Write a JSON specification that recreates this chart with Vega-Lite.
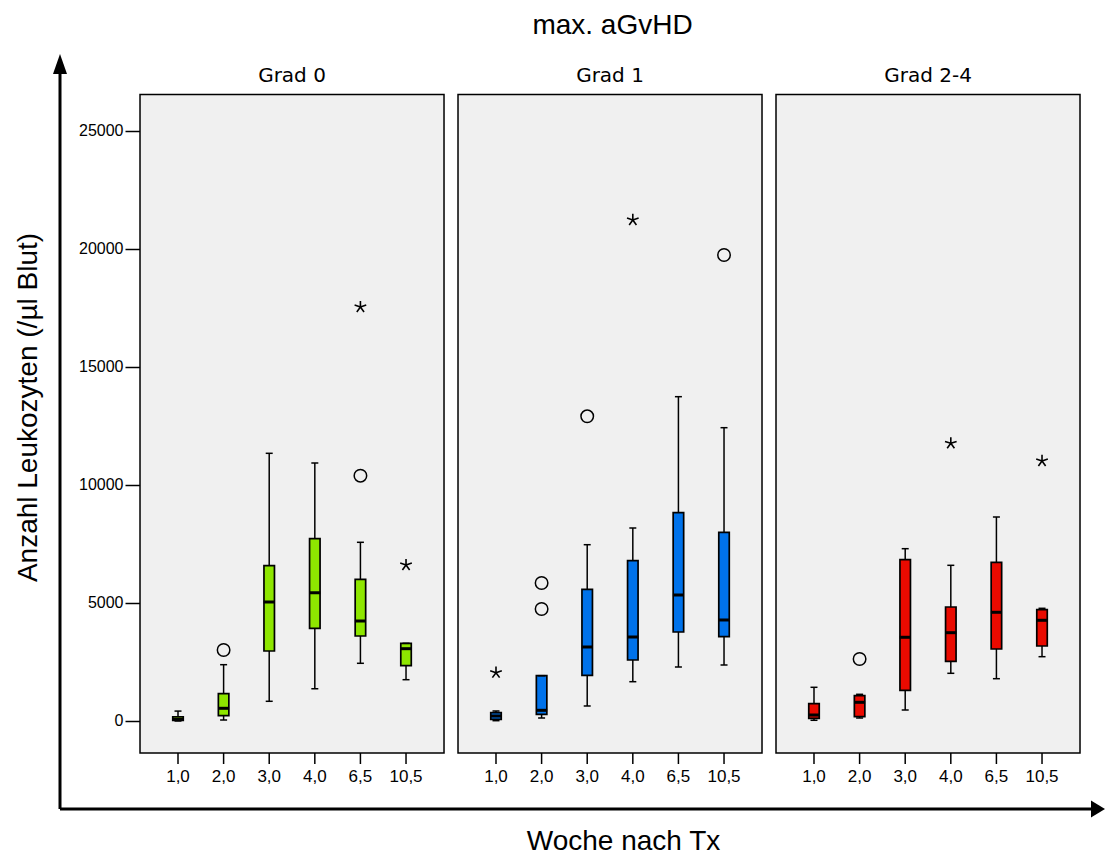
{
  "$schema": "https://vega.github.io/schema/vega-lite/v6.json",
  "autosize": "none",
  "width": 1045,
  "height": 756,
  "padding": {"left": 60, "top": 53, "right": 0, "bottom": 48},
  "background": "white",
  "config": {"view": {"stroke": null}, "font": "Liberation Sans"},
  "title": {
    "text": "max. aGvHD",
    "font": "Liberation Sans",
    "fontSize": 28,
    "fontWeight": "normal",
    "color": "black",
    "anchor": "middle",
    "dx": 30,
    "dy": 30,
    "offset": 21,
    "baseline": "alphabetic"
  },
  "datasets": {
    "panels": [
      {"grad": "Grad 0"},
      {"grad": "Grad 1"},
      {"grad": "Grad 2-4"}
    ],
    "boxes": [
      {"grad": "Grad 0", "woche": "1,0", "lower": 0, "q1": 20, "median": 80, "q3": 180, "upper": 420},
      {"grad": "Grad 0", "woche": "2,0", "lower": 42, "q1": 225, "median": 538, "q3": 1157, "upper": 2386},
      {"grad": "Grad 0", "woche": "3,0", "lower": 835, "q1": 2966, "median": 5042, "q3": 6581, "upper": 11343},
      {"grad": "Grad 0", "woche": "4,0", "lower": 1369, "q1": 3928, "median": 5436, "q3": 7725, "upper": 10932},
      {"grad": "Grad 0", "woche": "6,5", "lower": 2445, "q1": 3602, "median": 4237, "q3": 6004, "upper": 7572},
      {"grad": "Grad 0", "woche": "10,5", "lower": 1750, "q1": 2343, "median": 3064, "q3": 3292, "upper": 3292},
      {"grad": "Grad 1", "woche": "1,0", "lower": 13, "q1": 72, "median": 212, "q3": 352, "upper": 424},
      {"grad": "Grad 1", "woche": "2,0", "lower": 127, "q1": 284, "median": 453, "q3": 1919, "upper": 1919},
      {"grad": "Grad 1", "woche": "3,0", "lower": 636, "q1": 1936, "median": 3136, "q3": 5581, "upper": 7470},
      {"grad": "Grad 1", "woche": "4,0", "lower": 1665, "q1": 2585, "median": 3559, "q3": 6792, "upper": 8178},
      {"grad": "Grad 1", "woche": "6,5", "lower": 2288, "q1": 3771, "median": 5339, "q3": 8826, "upper": 13742},
      {"grad": "Grad 1", "woche": "10,5", "lower": 2373, "q1": 3572, "median": 4280, "q3": 7996, "upper": 12428},
      {"grad": "Grad 2-4", "woche": "1,0", "lower": 30, "q1": 114, "median": 254, "q3": 733, "upper": 1428},
      {"grad": "Grad 2-4", "woche": "2,0", "lower": 127, "q1": 182, "median": 792, "q3": 1072, "upper": 1131},
      {"grad": "Grad 2-4", "woche": "3,0", "lower": 466, "q1": 1301, "median": 3547, "q3": 6835, "upper": 7301},
      {"grad": "Grad 2-4", "woche": "4,0", "lower": 2021, "q1": 2530, "median": 3742, "q3": 4831, "upper": 6597},
      {"grad": "Grad 2-4", "woche": "6,5", "lower": 1792, "q1": 3051, "median": 4606, "q3": 6725, "upper": 8644},
      {"grad": "Grad 2-4", "woche": "10,5", "lower": 2725, "q1": 3178, "median": 4267, "q3": 4716, "upper": 4775}
    ],
    "circles": [
      {"grad": "Grad 0", "woche": "2,0", "value": 3008},
      {"grad": "Grad 0", "woche": "6,5", "value": 10394},
      {"grad": "Grad 1", "woche": "2,0", "value": 5847},
      {"grad": "Grad 1", "woche": "2,0", "value": 4746},
      {"grad": "Grad 1", "woche": "3,0", "value": 12911},
      {"grad": "Grad 1", "woche": "10,5", "value": 19746},
      {"grad": "Grad 2-4", "woche": "2,0", "value": 2627}
    ],
    "stars": [
      {"grad": "Grad 0", "woche": "6,5", "value": 17542},
      {"grad": "Grad 0", "woche": "10,5", "value": 6610},
      {"grad": "Grad 1", "woche": "1,0", "value": 2047},
      {"grad": "Grad 1", "woche": "4,0", "value": 21229},
      {"grad": "Grad 2-4", "woche": "4,0", "value": 11767},
      {"grad": "Grad 2-4", "woche": "10,5", "value": 11017}
    ]
  },
  "resolve": {"scale": {"x": "independent"}},
  "layer": [
    {
      "encoding": {
        "x": {
          "field": "grad",
          "type": "nominal",
          "scale": {
            "type": "band",
            "domain": ["Grad 0", "Grad 1", "Grad 2-4"],
            "paddingInner": 0.044,
            "paddingOuter": 0.1651,
            "align": 0.762
          },
          "axis": {
            "title": "Woche nach Tx",
            "labels": false,
            "ticks": false,
            "domain": false,
            "titleFont": "Liberation Sans",
            "titleFontSize": 28,
            "titleFontWeight": "normal",
            "titleColor": "black",
            "titleX": 563,
            "titleBaseline": "alphabetic",
            "titlePadding": 40
          }
        }
      },
      "layer": [
        {
          "data": {"name": "panels"},
          "mark": {"type": "bar", "fill": "#f0f0f0", "stroke": "black", "strokeWidth": 1.5},
          "encoding": {
            "y": {
              "datum": 26547,
              "type": "quantitative",
              "scale": {"domain": [-3729, 28305], "nice": false, "zero": false},
              "axis": {
                "values": [0, 5000, 10000, 15000, 20000, 25000],
                "format": "d",
                "domain": false,
                "grid": false,
                "offset": -80,
                "tickSize": 15,
                "tickWidth": 1.5,
                "tickColor": "black",
                "labelFont": "Liberation Sans",
                "labelFontSize": 16,
                "labelColor": "black",
                "labelPadding": 2,
                "title": "Anzahl Leukozyten (/µl Blut)",
                "titleFont": "Liberation Sans",
                "titleFontSize": 28,
                "titleFontWeight": "normal",
                "titleColor": "black",
                "titleAngle": -90,
                "titleAlign": "center",
                "titleBaseline": "alphabetic",
                "titleX": -104,
                "titleY": 354
              }
            },
            "y2": {"datum": -1356}
          }
        },
        {
          "data": {"name": "boxes"},
          "mark": {"type": "rule", "color": "black", "strokeWidth": 1.5},
          "encoding": {
            "xOffset": {"field": "woche", "type": "nominal", "scale": {"type": "band", "domain": ["1,0", "2,0", "3,0", "4,0", "6,5", "10,5"], "paddingInner": 0, "paddingOuter": 0.333}},
            "y": {"datum": -1356, "type": "quantitative"},
            "y2": {"datum": -1822}
          }
        },
        {
          "data": {"name": "boxes"},
          "mark": {"type": "rule", "color": "black", "strokeWidth": 1.5},
          "encoding": {
            "xOffset": {"field": "woche", "type": "nominal"},
            "y": {"field": "lower", "type": "quantitative"},
            "y2": {"field": "upper"}
          }
        },
        {
          "data": {"name": "boxes"},
          "mark": {"type": "bar", "width": 10.5, "stroke": "black", "strokeWidth": 1.7},
          "encoding": {
            "xOffset": {"field": "woche", "type": "nominal"},
            "y": {"field": "q1", "type": "quantitative"},
            "y2": {"field": "q3"},
            "fill": {
              "field": "grad",
              "type": "nominal",
              "scale": {"domain": ["Grad 0", "Grad 1", "Grad 2-4"], "range": ["#8ee600", "#0072ea", "#ea0a00"]},
              "legend": null
            }
          }
        },
        {
          "data": {"name": "boxes"},
          "mark": {"type": "tick", "orient": "horizontal", "size": 11, "thickness": 3, "color": "black", "opacity": 1},
          "encoding": {
            "xOffset": {"field": "woche", "type": "nominal"},
            "y": {"field": "median", "type": "quantitative"}
          }
        },
        {
          "data": {"name": "boxes"},
          "mark": {"type": "tick", "orient": "horizontal", "size": 7, "thickness": 1.5, "color": "black", "opacity": 1},
          "encoding": {
            "xOffset": {"field": "woche", "type": "nominal"},
            "y": {"field": "lower", "type": "quantitative"}
          }
        },
        {
          "data": {"name": "boxes"},
          "mark": {"type": "tick", "orient": "horizontal", "size": 7, "thickness": 1.5, "color": "black", "opacity": 1},
          "encoding": {
            "xOffset": {"field": "woche", "type": "nominal"},
            "y": {"field": "upper", "type": "quantitative"}
          }
        },
        {
          "data": {"name": "circles"},
          "mark": {"type": "point", "shape": "circle", "filled": false, "stroke": "black", "strokeWidth": 1.5, "size": 156, "opacity": 1},
          "encoding": {
            "xOffset": {"field": "woche", "type": "nominal"},
            "y": {"field": "value", "type": "quantitative"}
          }
        },
        {
          "data": {"name": "stars"},
          "mark": {
            "type": "point",
            "shape": "M0,0L0,-1M0,0L0.95,-0.31M0,0L-0.95,-0.31M0,0L0.59,0.81M0,0L-0.59,0.81",
            "filled": false,
            "stroke": "black",
            "strokeWidth": 1.6,
            "size": 150,
            "opacity": 1
          },
          "encoding": {
            "xOffset": {"field": "woche", "type": "nominal"},
            "y": {"field": "value", "type": "quantitative"}
          }
        },
        {
          "data": {"name": "panels"},
          "mark": {"type": "text", "font": "DejaVu Sans", "fontSize": 20, "baseline": "alphabetic", "align": "center", "color": "black"},
          "encoding": {
            "y": {"datum": 27089, "type": "quantitative"},
            "text": {"field": "grad"}
          }
        },
        {
          "data": {"name": "boxes"},
          "mark": {"type": "text", "font": "Liberation Sans", "fontSize": 17, "baseline": "alphabetic", "align": "center", "color": "black"},
          "encoding": {
            "xOffset": {"field": "woche", "type": "nominal"},
            "y": {"datum": -2585, "type": "quantitative"},
            "text": {"field": "woche"}
          }
        }
      ]
    },
    {
      "data": {"values": [{}]},
      "encoding": {
        "x": {"datum": 0, "type": "quantitative", "scale": {"domain": [0, 1], "nice": false, "zero": false}, "axis": null}
      },
      "layer": [
        {
          "mark": {"type": "rule", "color": "black", "strokeWidth": 3},
          "encoding": {
            "y": {"datum": -3729, "type": "quantitative"},
            "y2": {"datum": 27500}
          }
        },
        {
          "mark": {"type": "rule", "color": "black", "strokeWidth": 3},
          "encoding": {
            "x2": {"datum": 0.988},
            "y": {"datum": -3729, "type": "quantitative"}
          }
        },
        {
          "mark": {"type": "point", "shape": "M0,-1L0.7,1L-0.7,1Z", "filled": true, "color": "black", "size": 400, "opacity": 1},
          "encoding": {
            "y": {"datum": 27839, "type": "quantitative"}
          }
        },
        {
          "mark": {"type": "point", "shape": "M1,0L-1,-1.2L-1,1.2Z", "filled": true, "color": "black", "size": 196, "opacity": 1},
          "encoding": {
            "x": {"datum": 0.9933, "type": "quantitative", "scale": {"domain": [0, 1], "nice": false, "zero": false}, "axis": null},
            "y": {"datum": -3729, "type": "quantitative"}
          }
        }
      ]
    }
  ]
}
